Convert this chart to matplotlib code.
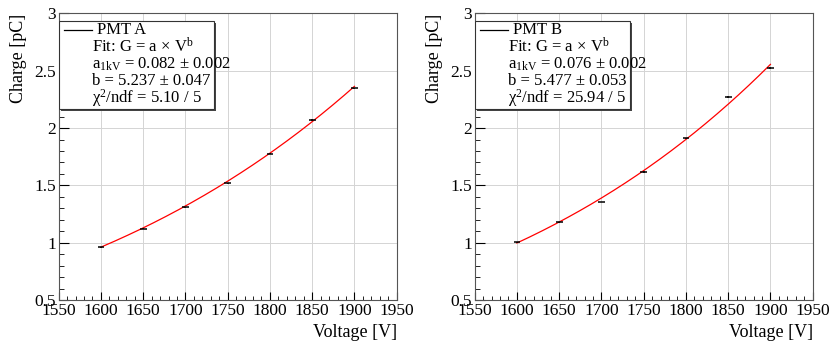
import numpy as np
import matplotlib
matplotlib.use("Agg")
import matplotlib.pyplot as plt
from matplotlib.patches import Rectangle
from matplotlib.ticker import MultipleLocator

plt.rcParams['font.family'] = ['Liberation Serif', 'DejaVu Serif']
plt.rcParams['mathtext.fontset'] = 'custom'
plt.rcParams['mathtext.rm'] = 'Liberation Serif'
plt.rcParams['mathtext.it'] = 'Liberation Serif:italic'
plt.rcParams['font.size'] = 11

# datos
voltage = [1600, 1650, 1700, 1750, 1800, 1850, 1900]
charge_a = [0.960, 1.122, 1.309, 1.518, 1.777, 2.071, 2.347]
charge_b = [1.003, 1.178, 1.355, 1.617, 1.911, 2.269, 2.522]
err_v = 4
err_a = [0.004, 0.004, 0.004, 0.004, 0.005, 0.005, 0.005]
err_b = [0.004, 0.004, 0.004, 0.005, 0.006, 0.008, 0.008]

# parametros del ajuste G = a * (V/1kV)^b
fit_a = {"a": 0.082, "b": 5.237}
fit_b = {"a": 0.076, "b": 5.477}

labels_a = ["PMT A", "Fit: G = a × V$^{\\mathrm{b}}$",
            "a$_{\\mathrm{1kV}}$ = 0.082 ± 0.002", "b = 5.237 ± 0.047",
            "χ$^{\\mathrm{2}}$/ndf = 5.10 / 5"]
labels_b = ["PMT B", "Fit: G = a × V$^{\\mathrm{b}}$",
            "a$_{\\mathrm{1kV}}$ = 0.076 ± 0.002", "b = 5.477 ± 0.053",
            "χ$^{\\mathrm{2}}$/ndf = 25.94 / 5"]


def panel(ax, y, yerr, fit, labels):
    # 1. grid y ejes estilo ROOT
    ax.set_xlim(1550, 1950)
    ax.set_ylim(0.5, 3)
    ax.xaxis.set_major_locator(MultipleLocator(50))
    ax.xaxis.set_minor_locator(MultipleLocator(10))
    ax.yaxis.set_major_locator(MultipleLocator(0.5))
    ax.yaxis.set_minor_locator(MultipleLocator(0.1))
    ax.yaxis.set_major_formatter(plt.FuncFormatter(lambda v, p: f"{v:g}"))
    ax.grid(True, which='major', color='#d4d4d4', lw=0.7)
    ax.set_axisbelow(True)
    ax.tick_params(which='both', direction='in', top=False, right=False,
                   labelsize=12.5, pad=2)
    ax.tick_params(axis='x', which='major', length=6)
    ax.tick_params(axis='x', which='minor', length=3)
    ax.tick_params(axis='y', which='major', length=7)
    ax.tick_params(axis='y', which='minor', length=3.5)
    for s in ax.spines.values():
        s.set_linewidth(0.8)
        s.set_color('#555555')

    # 2. curva del ajuste
    vv = np.linspace(1600, 1900, 200)
    ax.plot(vv, fit["a"] * (vv / 1000) ** fit["b"], color='red', lw=0.9)

    # 3. puntos con errores
    ax.errorbar(voltage, y, xerr=err_v, yerr=yerr, fmt='none',
                ecolor='black', elinewidth=1.1, capsize=0)

    ax.set_xlabel("Voltage [V]", loc='right', fontsize=13, labelpad=4)
    ax.set_ylabel("Charge [pC]", loc='top', fontsize=13, labelpad=5)

    # 4. leyenda dibujada a mano (con sombra)
    x0, y0, w, h = 0.0, 0.667, 0.459, 0.308
    ax.add_patch(Rectangle((x0 + 0.006, y0 - 0.008), w, h, transform=ax.transAxes,
                           facecolor='#444444', edgecolor='none', zorder=5))
    ax.add_patch(Rectangle((x0, y0), w, h, transform=ax.transAxes,
                           facecolor='white', edgecolor='#333333', lw=0.8, zorder=6))
    ax.plot([0.017, 0.098], [0.944, 0.944], transform=ax.transAxes,
            color='black', lw=0.9, zorder=7)
    ax.text(0.113, 0.944, labels[0], transform=ax.transAxes, va='center',
            fontsize=12, zorder=7)
    ys = [0.882, 0.822, 0.763, 0.704]
    for t, yy in zip(labels[1:], ys):
        ax.text(0.100, yy, t, transform=ax.transAxes, va='center',
                fontsize=12, zorder=7)


fig = plt.figure(figsize=(8.36, 3.5), dpi=100)
ax1 = fig.add_axes([0.0702, 0.1429, 0.4043, 0.8186])
ax2 = fig.add_axes([0.5678, 0.1429, 0.4043, 0.8186])
panel(ax1, charge_a, err_a, fit_a, labels_a)
panel(ax2, charge_b, err_b, fit_b, labels_b)

fig.savefig("out.png", dpi=100)
